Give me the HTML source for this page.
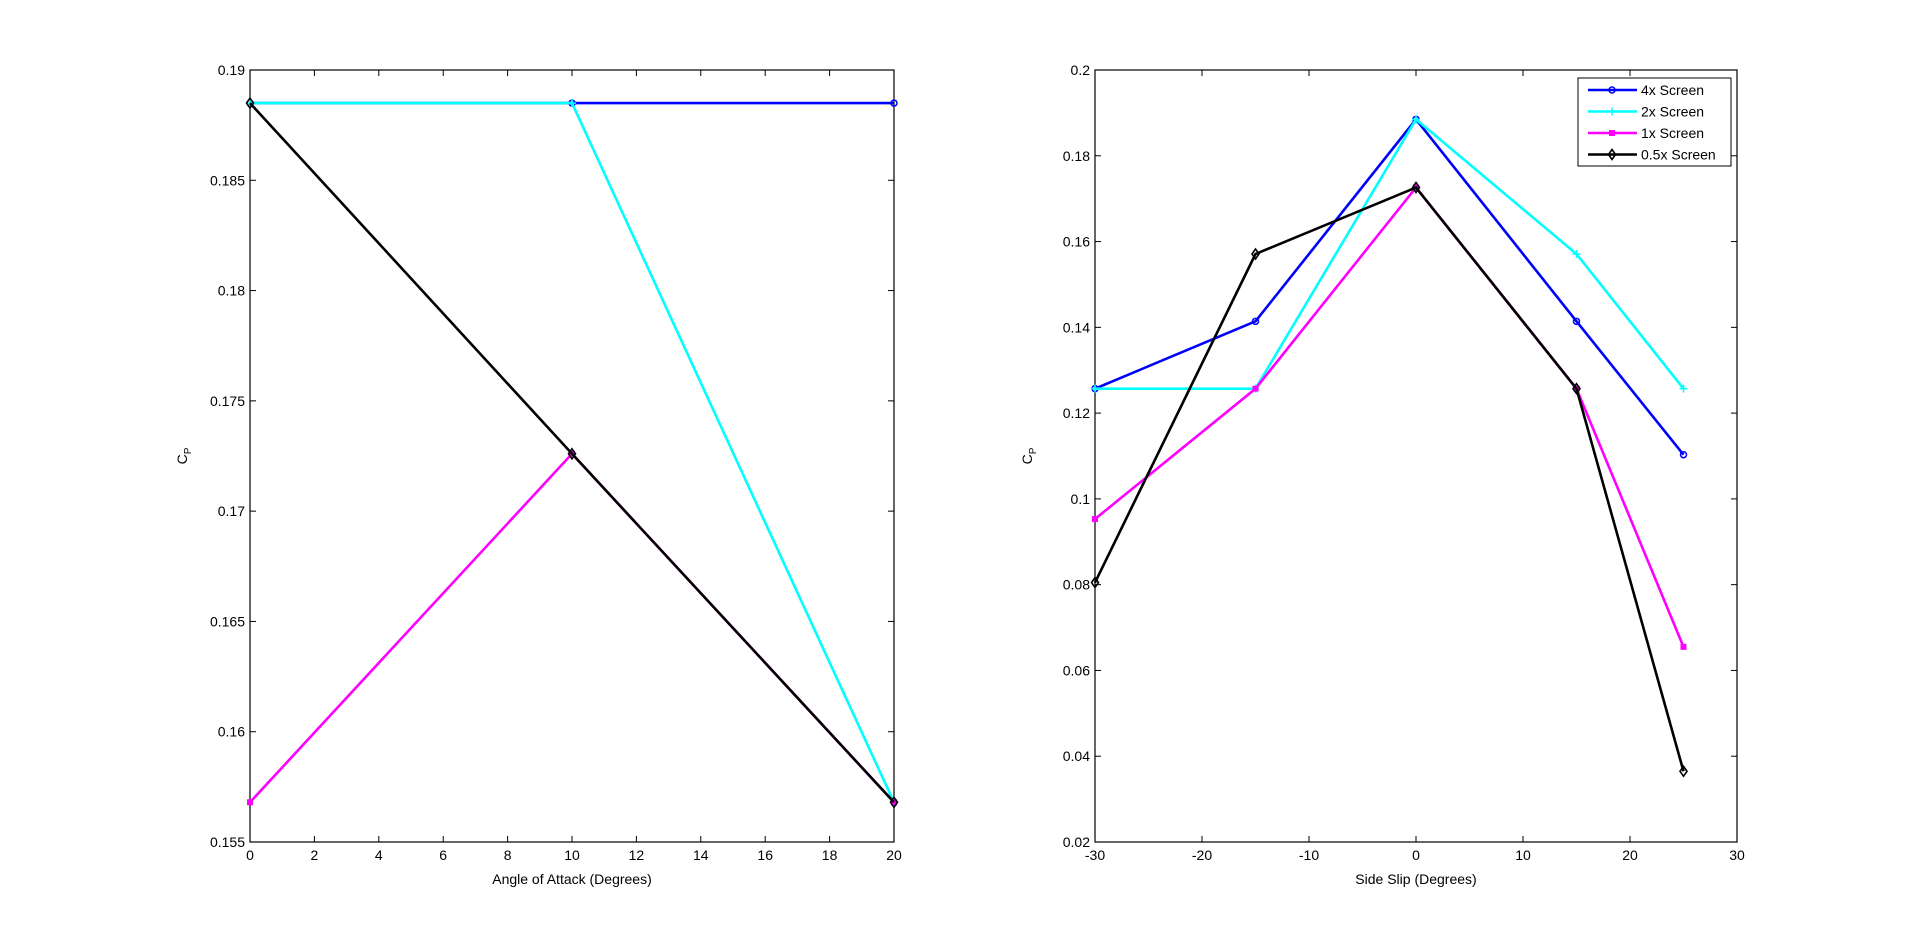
<!DOCTYPE html>
<html><head><style>body{margin:0;background:#fff}svg{display:block}text{font-family:"Liberation Sans",Arial,sans-serif;font-size:14px;fill:#000}</style></head><body>
<svg width="1920" height="946" xmlns="http://www.w3.org/2000/svg" id="s"></svg>
<script>
const s=document.getElementById('s');let h='';
function ax(L,R,T,B,x0,x1,xt,y0,y1,yt,fx,fy,xl){
 const X=v=>L+(v-x0)/(x1-x0)*(R-L),Y=v=>B-(v-y0)/(y1-y0)*(B-T);
 h+=`<rect x="${L}" y="${T}" width="${R-L}" height="${B-T}" fill="#fff" stroke="#000" stroke-width="1.2"/>`;
 xt.forEach(v=>{const x=X(v);h+=`<line x1="${x}" x2="${x}" y1="${B}" y2="${B-6}" stroke="#000"/><line x1="${x}" x2="${x}" y1="${T}" y2="${T+6}" stroke="#000"/><text x="${x}" y="${B+18}" text-anchor="middle">${fx(v)}</text>`});
 yt.forEach(v=>{const y=Y(v);h+=`<line x1="${L}" x2="${L+6}" y1="${y}" y2="${y}" stroke="#000"/><line x1="${R}" x2="${R-6}" y1="${y}" y2="${y}" stroke="#000"/><text x="${L-5}" y="${y+5}" text-anchor="end">${fy(v)}</text>`});
 h+=`<text x="${(L+R)/2}" y="${B+42}" text-anchor="middle">${xl}</text>`;
 h+=`<text transform="translate(${L-63},${(T+B)/2}) rotate(-90)" text-anchor="middle">C<tspan font-size="10" dy="4">P</tspan></text>`;
 return [X,Y];
}
function ser(X,Y,xs,ys,c,m){
 let p=xs.map((x,i)=>X(x)+','+Y(ys[i])).join(' ');
 h+=`<polyline points="${p}" fill="none" stroke="${c}" stroke-width="2.6"/>`;
 xs.forEach((x,i)=>mk(X(x),Y(ys[i]),c,m));
}
function mk(x,y,c,m){
 if(m=='o')h+=`<circle cx="${x}" cy="${y}" r="3" fill="none" stroke="${c}" stroke-width="1.5"/>`;
 if(m=='+')h+=`<path d="M${x-4} ${y}h8M${x} ${y-4}v8" stroke="${c}" stroke-width="1.5"/>`;
 if(m=='s')h+=`<rect x="${x-3}" y="${y-3}" width="6" height="6" fill="${c}"/>`;
 if(m=='d')h+=`<path d="M${x} ${y-5}L${x+3.5} ${y}L${x} ${y+5}L${x-3.5} ${y}Z" fill="none" stroke="${c}" stroke-width="1.6"/>`;
}
const C=['#0000ff','#00ffff','#ff00ff','#000'],M=['o','+','s','d'];
let yt1=[];for(let i=0;i<=7;i++)yt1.push(0.155+i*0.005);
let [X1,Y1]=ax(250,894,70,842,0,20,[0,2,4,6,8,10,12,14,16,18,20],0.155,0.19,yt1,v=>v,v=>+v.toFixed(3),'Angle of Attack (Degrees)');
const d1=[[0.1885,0.1885,0.1885],[0.1885,0.1885,0.1568],[0.1568,0.1726,0.1568],[0.1885,0.1726,0.1568]];
d1.forEach((d,i)=>ser(X1,Y1,[0,10,20],d,C[i],M[i]));
let yt2=[];for(let i=0;i<=9;i++)yt2.push(0.02+i*0.02);
let [X2,Y2]=ax(1095,1737,70,842,-30,30,[-30,-20,-10,0,10,20,30],0.02,0.2,yt2,v=>v,v=>+v.toFixed(2),'Side Slip (Degrees)');
const d2=[[0.1257,0.1414,0.1885,0.1414,0.1103],[0.1257,0.1257,0.1885,0.1571,0.1257],[0.0953,0.1257,0.1726,0.1257,0.0655],[0.0805,0.1571,0.1726,0.1257,0.0365]];
d2.forEach((d,i)=>ser(X2,Y2,[-30,-15,0,15,25],d,C[i],M[i]));
h+=`<rect x="1578" y="78" width="153" height="88" fill="#fff" stroke="#000"/>`;
['4x Screen','2x Screen','1x Screen','0.5x Screen'].forEach((t,i)=>{const y=90+i*21.5;h+=`<line x1="1588" x2="1637" y1="${y}" y2="${y}" stroke="${C[i]}" stroke-width="2.6"/>`;mk(1612,y,C[i],M[i]);h+=`<text x="1641" y="${y+5}">${t}</text>`});
s.innerHTML=h;
</script>
</body></html>
